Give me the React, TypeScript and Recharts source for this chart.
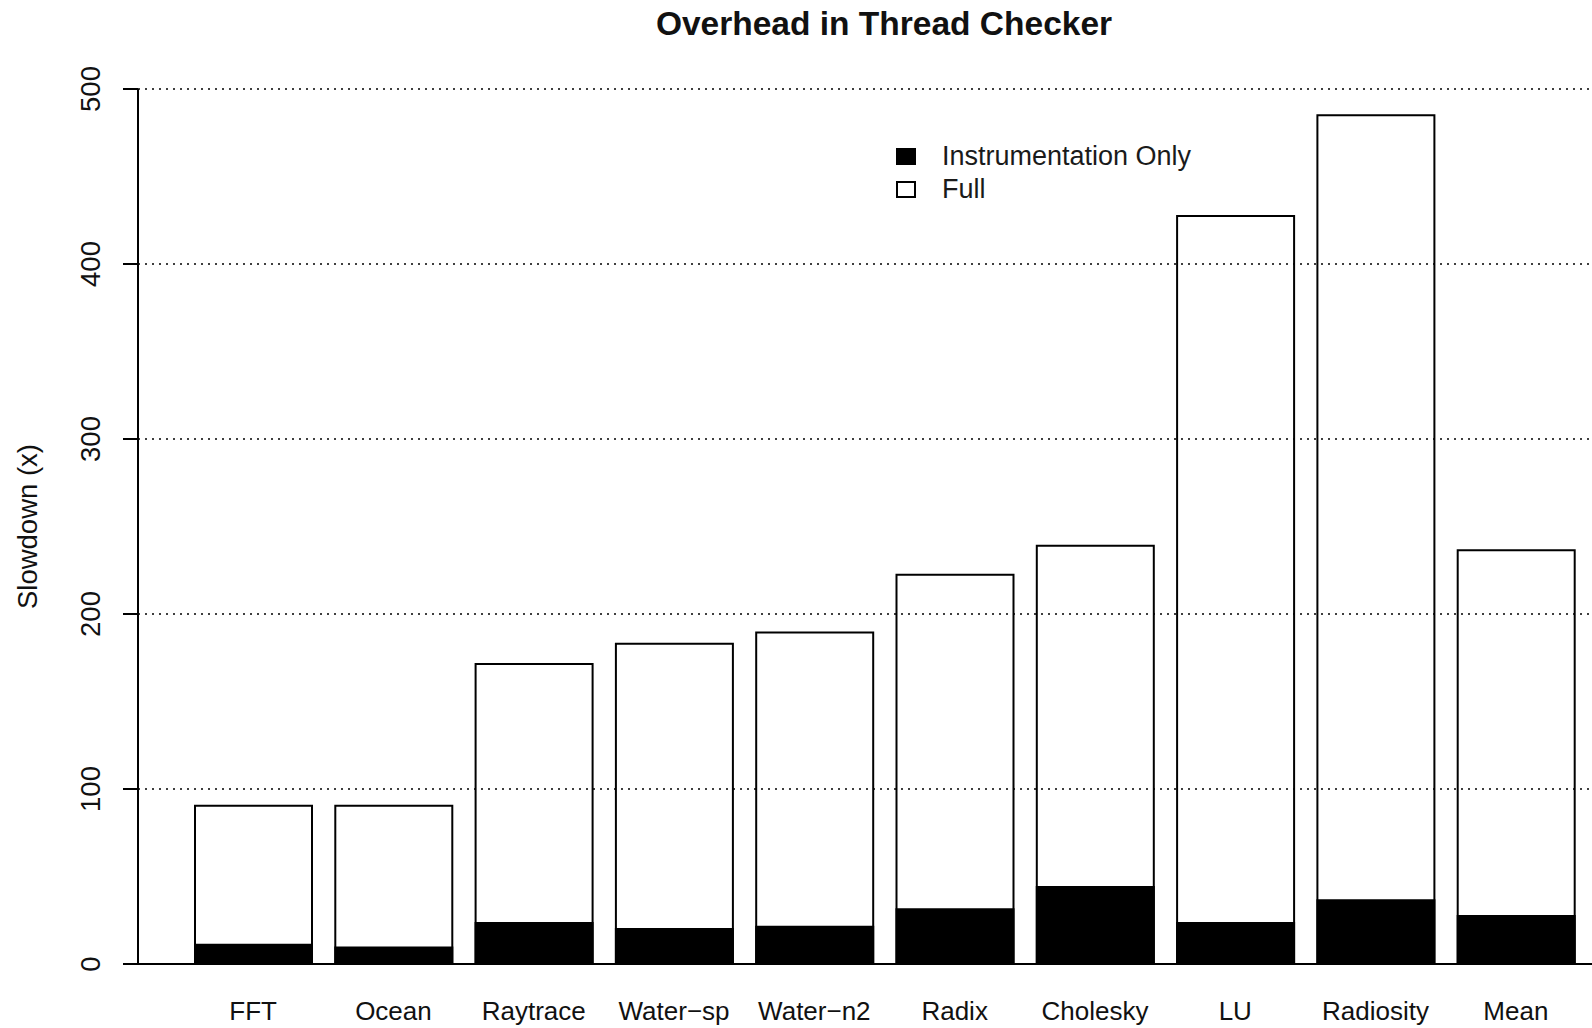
import React from 'react';
import { BarChart, Bar, XAxis, YAxis, ReferenceLine, Legend } from 'recharts';

const categories = ['FFT', 'Ocean', 'Raytrace', 'Water−sp', 'Water−n2', 'Radix', 'Cholesky', 'LU', 'Radiosity', 'Mean'];
const fullSlowdown = [90.5, 90.5, 171.5, 183, 189.5, 222.5, 239, 427.5, 485, 236.5];
const instSlowdown = [11, 9.5, 23.5, 20, 21.3, 31.3, 44, 23.5, 36.5, 27.5];
const yTicks = [0, 100, 200, 300, 400, 500];
const gridLines = [100, 200, 300, 400, 500];

const data = categories.map((name, i) => ({ name, full: fullSlowdown[i], inst: instSlowdown[i] }));

const font = '"Liberation Sans", Arial, Helvetica, sans-serif';

const XTick = ({ x, y, payload }: any) => (
  <text x={x} y={y + 54} textAnchor="middle" fontSize={26} fontFamily={font} fill="#111">
    {payload.value}
  </text>
);

const YTick = ({ x, y, payload }: any) => {
  const bx = x - 23;
  return (
    <text x={bx} y={y} transform={`rotate(-90 ${bx} ${y})`} textAnchor="middle" fontSize={27.5} fontFamily={font} fill="#111">
      {payload.value}
    </text>
  );
};

const YLabel = ({ viewBox }: any) => {
  const cx = viewBox.x + 37;
  const cy = viewBox.y + viewBox.height / 2;
  return (
    <text x={cx} y={cy} transform={`rotate(-90 ${cx} ${cy})`} textAnchor="middle" fontSize={27.5} fontFamily={font} fill="#111">
      Slowdown (x)
    </text>
  );
};

const LegendBox = ({ payload }: any) => (
  <div style={{ fontFamily: font, fontSize: 27, color: '#1a1a1a' }}>
    {[...(payload || [])].reverse().map((e: any) => (
      <div key={e.value} style={{ display: 'flex', alignItems: 'center', height: 33 }}>
        <span style={{ width: 16, height: 13, border: '2px solid #000', background: e.color, marginRight: 26 }} />
        {e.value}
      </div>
    ))}
  </div>
);

export default function App() {
  return (
    <div style={{ position: 'absolute', left: 0, top: 0, width: 1592, height: 1028, background: '#fff' }}>
      <div
        style={{
          position: 'absolute', left: 484, top: 7, width: 800, textAlign: 'center',
          fontFamily: font, fontWeight: 'bold', fontSize: 33.5, lineHeight: 1, color: '#111',
        }}
      >
        Overhead in Thread Checker
      </div>
      <BarChart width={1592} height={1028} data={data} margin={{ top: 89, right: 0, bottom: 0, left: 0 }}>
        <XAxis
          xAxisId="full"
          dataKey="name"
          padding={{ left: 45, right: 6 }}
          tickLine={false}
          tickSize={0}
          height={64}
          interval={0}
          axisLine={{ stroke: '#000', strokeWidth: 2 }}
          tick={<XTick />}
        />
        <XAxis xAxisId="inst" dataKey="name" padding={{ left: 45, right: 6 }} hide />
        <YAxis
          type="number"
          domain={[0, 500]}
          ticks={yTicks}
          interval={0}
          width={138}
          tickSize={15}
          tickMargin={0}
          axisLine={{ stroke: '#000', strokeWidth: 2 }}
          tickLine={{ stroke: '#000', strokeWidth: 2 }}
          tick={<YTick />}
          label={{ content: <YLabel /> }}
        />
        <Bar xAxisId="full" dataKey="full" name="Full" fill="#fff" stroke="#000" strokeWidth={2} barSize={117} isAnimationActive={false} />
        <Bar xAxisId="inst" dataKey="inst" name="Instrumentation Only" fill="#000" stroke="#000" strokeWidth={2} barSize={117} isAnimationActive={false} />
        {gridLines.map((v) => (
          <ReferenceLine key={v} xAxisId="full" y={v} stroke="#000" strokeWidth={1.6} strokeDasharray="2 5" />
        ))}
        <Legend
          layout="vertical"
          align="center"
          verticalAlign="middle"
          content={<LegendBox />}
          wrapperStyle={{ left: 896, top: 140, width: 'auto', height: 'auto' }}
        />
      </BarChart>
    </div>
  );
}
